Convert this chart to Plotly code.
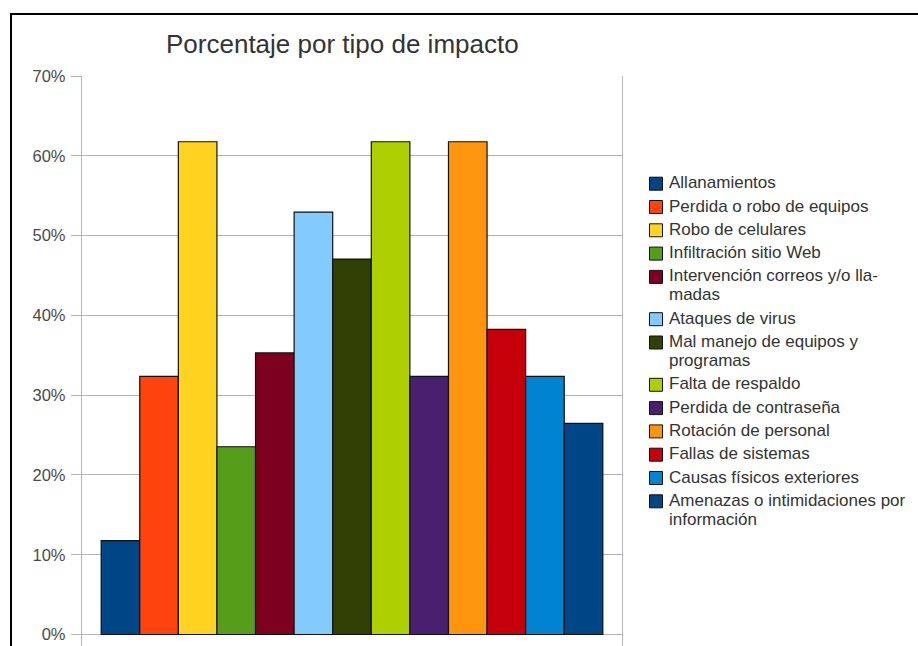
import plotly.graph_objects as go

# ---------------- data ----------------
categorias = [
    "Allanamientos",
    "Perdida o robo de equipos",
    "Robo de celulares",
    "Infiltración sitio Web",
    "Intervención correos y/o llamadas",
    "Ataques de virus",
    "Mal manejo de equipos y programas",
    "Falta de respaldo",
    "Perdida de contraseña",
    "Rotación de personal",
    "Fallas de sistemas",
    "Causas físicos exteriores",
    "Amenazas o intimidaciones por información",
]
valores = [11.76, 32.35, 61.76, 23.53, 35.29, 52.94, 47.06, 61.76, 32.35, 61.76, 38.24, 32.35, 26.47]
colores = ["#004586", "#ff420e", "#ffd320", "#579d1c", "#7e0021", "#83caff", "#314004",
           "#aecf00", "#4b1f6f", "#ff950e", "#c5000b", "#0084d1", "#004586"]
etiquetas_leyenda = [
    ["Allanamientos"],
    ["Perdida o robo de equipos"],
    ["Robo de celulares"],
    ["Infiltración sitio Web"],
    ["Intervención correos y/o lla-", "madas"],
    ["Ataques de virus"],
    ["Mal manejo de equipos y", "programas"],
    ["Falta de respaldo"],
    ["Perdida de contraseña"],
    ["Rotación de personal"],
    ["Fallas de sistemas"],
    ["Causas físicos exteriores"],
    ["Amenazas o intimidaciones por", "información"],
]
tick_vals = [0, 10, 20, 30, 40, 50, 60, 70]
tick_text = ["0%", "10%", "20%", "30%", "40%", "50%", "60%", "70%"]
titulo = "Porcentaje por tipo de impacto"

# ---------------- layout helpers ----------------
W, H = 918, 646
ML, MR, MT, MB = 82, 296, 76, 0
PW, PH = W - ML - MR, H - MT - MB


def px(x):
    return (x - ML) / PW


def py(y):
    return (H - MB - y) / PH


FONT = "Liberation Sans, Arial, sans-serif"

fig = go.Figure()
for n, v, c in zip(categorias, valores, colores):
    fig.add_trace(go.Bar(
        x=[""], y=[v], name=n, showlegend=False,
        marker=dict(color=c, line=dict(color="#111111", width=1.2)),
    ))

shapes = []
annotations = []

# frame of the screenshot (black border top and left)
shapes.append(dict(type="line", xref="paper", yref="paper",
                   x0=px(11), x1=px(925), y0=py(14), y1=py(14),
                   line=dict(color="#000000", width=2)))
shapes.append(dict(type="line", xref="paper", yref="paper",
                   x0=px(11), x1=px(11), y0=py(13), y1=py(660),
                   line=dict(color="#000000", width=2)))

# manual legend
y_c = 182.7
STEP, LINE = 23.3, 19.0
for lines, c in zip(etiquetas_leyenda, colores):
    shapes.append(dict(type="rect", xref="paper", yref="paper",
                       x0=px(649.5), x1=px(662.5), y0=py(y_c + 1 - 6.5), y1=py(y_c + 1 + 6.5),
                       fillcolor=c, line=dict(color="#111111", width=1)))
    for k, t in enumerate(lines):
        annotations.append(dict(xref="paper", yref="paper", x=px(667), y=py(y_c + k * LINE),
                                xanchor="left", yanchor="middle", text=t, showarrow=False,
                                font=dict(family=FONT, size=17, color="#333333")))
    y_c += STEP + LINE * (len(lines) - 1)

# title
annotations.append(dict(xref="paper", yref="paper", x=px(342), y=py(44),
                        xanchor="center", yanchor="middle", text=titulo, showarrow=False,
                        font=dict(family=FONT, size=26, color="#333333")))

fig.update_layout(
    width=W, height=H,
    margin=dict(l=ML, r=MR, t=MT, b=MB, pad=0),
    paper_bgcolor="white", plot_bgcolor="white",
    barmode="group", bargap=0.071, bargroupgap=0,
    shapes=shapes, annotations=annotations,
    showlegend=False,
    xaxis=dict(showticklabels=False, showgrid=False, zeroline=False, showline=False, ticks=""),
    yaxis=dict(range=[-1.44, 70], tickmode="array", tickvals=tick_vals, ticktext=tick_text,
               showgrid=True, gridcolor="#b3b3b3", gridwidth=1.3,
               zeroline=True, zerolinecolor="#b3b3b3", zerolinewidth=1.3,
               showline=True, linecolor="#b3b3b3", linewidth=1.3, mirror=True,
               ticks="outside", ticklen=10, tickcolor="#b3b3b3", tickwidth=1.3,
               ticklabelstandoff=2,
               tickfont=dict(family=FONT, size=16.5, color="#4a4a4a")),
)

fig.write_html("out.html")
